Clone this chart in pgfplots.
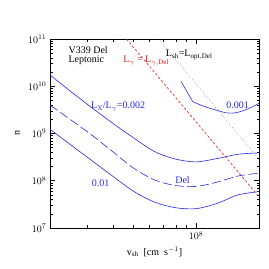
\documentclass[border=0pt]{standalone}
\usepackage{fontspec}
\setmainfont{Liberation Serif}
\usepackage{pgfplots}
\pgfplotsset{compat=1.18}
\definecolor{cblue}{RGB}{40,40,240}
\definecolor{cred}{RGB}{240,20,20}
\begin{document}
\begin{tikzpicture}
\begin{axis}[
  at={(0,0)}, anchor=south west,
  scale only axis, width=209pt, height=189pt,
  xmode=log, ymode=log,
  xmin=2e7, xmax=2e8, ymin=1e7, ymax=1e11,
  xtick={1e8}, ytick={1e7,1e8,1e9,1e10,1e11},
  minor xtick={3e7,4e7,5e7,6e7,7e7,8e7,9e7},
  minor ytick={2e7,3e7,4e7,5e7,6e7,7e7,8e7,9e7,2e8,3e8,4e8,5e8,6e8,7e8,8e8,9e8,2e9,3e9,4e9,5e9,6e9,7e9,8e9,9e9,2e10,3e10,4e10,5e10,6e10,7e10,8e10,9e10},
  tick align=inside,
  major tick length=5pt, minor tick length=2.5pt,
  every tick/.style={black, line width=0.5pt},
  axis line style={line width=0.7pt},
  xlabel={v$_{\rm sh}$\ \ [cm\ \ s$^{-1}$]},
  ylabel={n},
  xlabel style={at={(axis description cs:0.5,-0.127)}, anchor=center},
  ylabel style={at={(axis description cs:-0.157,0.5)}, anchor=center},
  clip=true,
]
% L_X/L_gamma = 0.002
\addplot[cblue, line width=0.6pt, smooth] coordinates {
 (2.0e7,1.738e10) (2.512e7,7.762e9) (3.162e7,3.548e9) (3.981e7,1.660e9)
 (5.012e7,8.128e8) (6.310e7,4.169e8) (7.943e7,2.884e8) (1e8,2.512e8)
 (1.259e8,2.951e8) (1.585e8,3.631e8) (2.0e8,3.890e8)};
% Del (dashed)
\addplot[cblue, line width=0.6pt, smooth, dash pattern=on 9pt off 3.5pt] coordinates {
 (2.0e7,3.981e9) (2.512e7,1.950e9) (3.162e7,9.333e8) (3.981e7,4.169e8)
 (5.012e7,1.862e8) (6.310e7,1.047e8) (7.943e7,7.943e7) (1e8,7.586e7)
 (1.259e8,9.333e7) (1.585e8,1.259e8) (2.0e8,1.445e8)};
% 0.01
\addplot[cblue, line width=0.6pt, smooth] coordinates {
 (2.0e7,1.230e9) (2.512e7,5.754e8) (3.162e7,2.692e8) (3.981e7,1.259e8)
 (5.012e7,6.026e7) (6.310e7,3.548e7) (7.943e7,2.692e7) (1e8,2.570e7)
 (1.259e8,3.311e7) (1.585e8,5.012e7) (2.0e8,5.888e7)};
% 0.001
\addplot[cblue, line width=0.6pt] coordinates {
 (8.49e7,1.247e10) (9.64e7,4.71e9)};
\addplot[cblue, line width=0.6pt, smooth] coordinates {
 (9.64e7,4.71e9) (1.096e8,3.724e9) (1.245e8,3.141e9) (1.390e8,2.740e9)
 (1.521e8,2.716e9) (1.667e8,3.0e9) (1.832e8,3.55e9) (2.0e8,4.355e9)};
% L_gamma = L_gamma,Del
\addplot[cred, line width=0.6pt, dash pattern=on 2.5pt off 2pt] coordinates {
 (4.645e7,1e11) (2.0e8,4.57e7)};
% L_sh = L_opt,Del
\addplot[black!80, line width=0.4pt, dotted] coordinates {
 (6.62e7,1e11) (2.0e8,2.82e8)};

\node[anchor=west] at (rel axis cs:0.072,0.942) {V339 Del};
\node[anchor=west] at (rel axis cs:0.072,0.885) {Leptonic};
\node[cred] at (rel axis cs:0.46,0.884) {L$_\gamma$ = L$_{\gamma,\rm Del}$};
\node[black] at (rel axis cs:0.666,0.915) {L$_{\rm sh}$=L$_{\rm opt,Del}$};
\node[cblue] at (rel axis cs:0.326,0.642) {L$_{\rm X}$/L$_\gamma$=0.002};
\node[cblue] at (rel axis cs:0.898,0.651) {0.001};
\node[cblue] at (rel axis cs:0.634,0.254) {Del};
\node[cblue] at (rel axis cs:0.242,0.236) {0.01};
\end{axis}
\pgfresetboundingbox
\path[use as bounding box] (-50pt,-41pt) rectangle (219pt,228pt);
\end{tikzpicture}
\end{document}
